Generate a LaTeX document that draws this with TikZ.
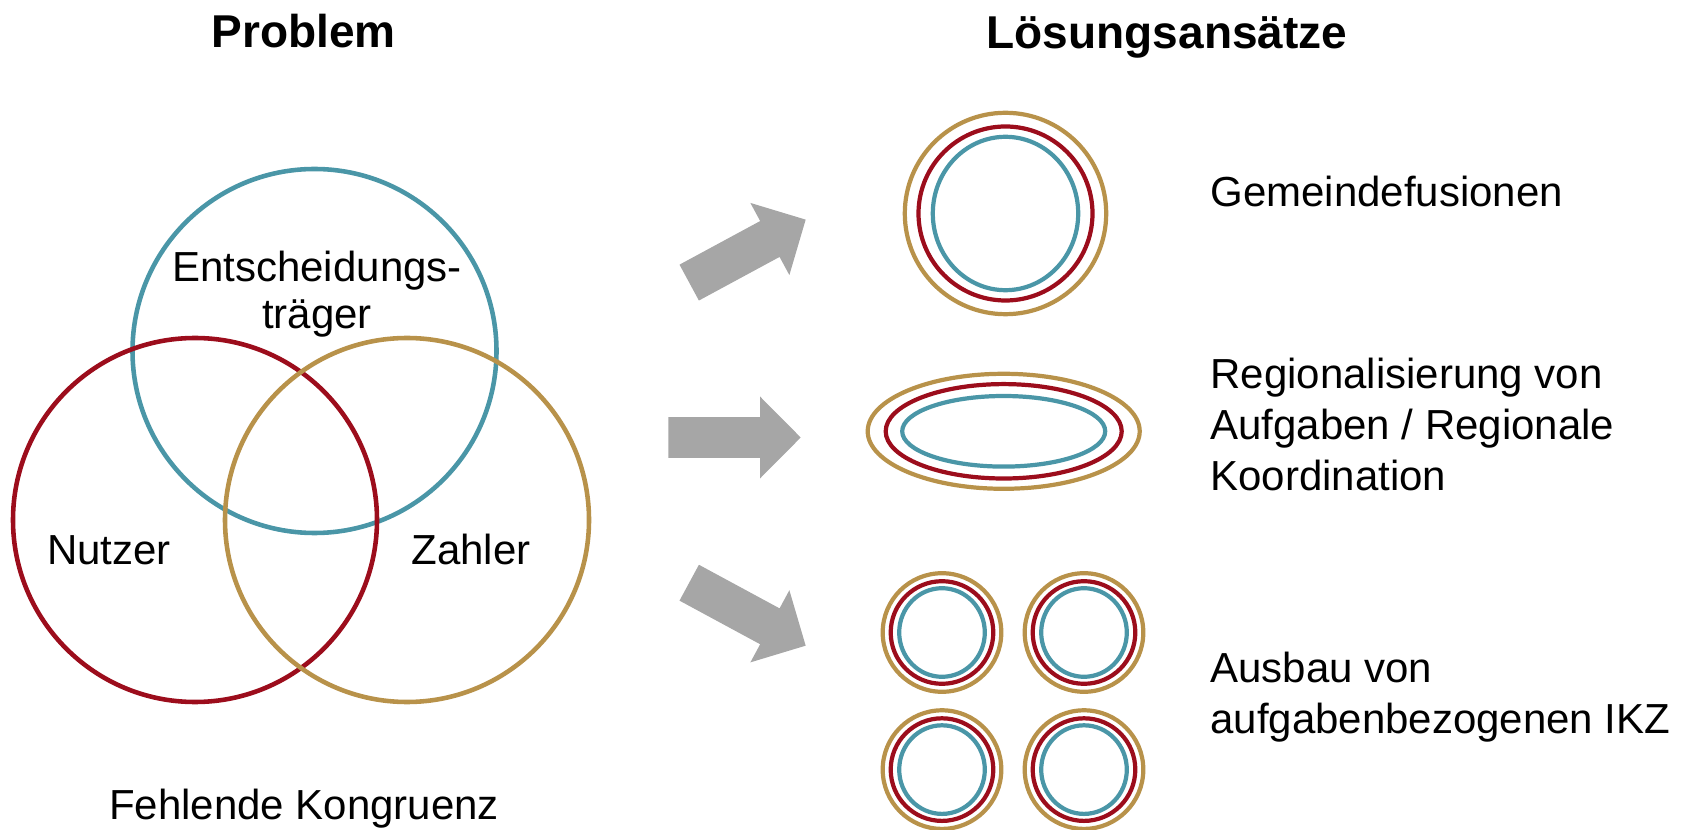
\documentclass[tikz,border=0pt]{standalone}
\usepackage{fontspec}
\setmainfont{Liberation Sans}
\definecolor{entblue}{HTML}{4A96A7}
\definecolor{nutzred}{HTML}{9C0D1C}
\definecolor{zahlgold}{HTML}{B8924A}
\definecolor{arrowgray}{HTML}{A6A6A6}
\tikzset{
  venn/.style={line width=2.6pt},
  ring/.style={line width=2.4pt},
  lbl/.style={inner sep=0pt, font=\fontsize{23.9}{27.1}\selectfont},
  rlbl/.style={inner sep=0pt, anchor=base west, align=left, font=\fontsize{23.9}{29}\selectfont},
  title/.style={inner sep=0pt, anchor=base, font=\fontsize{26.2}{30}\selectfont\bfseries}
}
\begin{document}
\begin{tikzpicture}[x=0.02cm,y=-0.02cm]
\useasboundingbox (0,0) rectangle (1686,830);

% titles
\node[title] (problem) at (303.6,47.6) {Problem};
\node[title] (loesung) at (1167,48.4) {Lösungsansätze};

% Venn
\draw[venn, entblue] (314.5,351) circle [radius=182];
\draw[venn, nutzred] (195,520) circle [radius=182];
\draw[venn, zahlgold] (407,520) circle [radius=182];
\node[lbl, anchor=base, align=center] (ent) at (317,329) {Entscheidungs-\\träger};
\node[lbl, anchor=base] (nutzer) at (109,564) {Nutzer};
\node[lbl, anchor=base] (zahler) at (471,564) {Zahler};
\node[lbl, anchor=base] (kongruenz) at (304,819) {Fehlende Kongruenz};

% arrows
\foreach \ax/\ay/\ang in {689.2/282.6/28.4, 668.3/437.5/0, 689.2/582.7/-28.4}
  \fill[arrowgray, shift={(\ax,\ay)}, rotate=\ang]
    (0,-20.4) -- (91.7,-20.4) -- (91.7,-41) -- (132.4,0) -- (91.7,41) -- (91.7,20.4) -- (0,20.4) -- cycle;

% Gemeindefusionen
\draw[ring, zahlgold] (1005.5,213.5) circle [radius=100.7];
\draw[ring, nutzred] (1005.5,213.5) circle [radius=87];
\draw[ring, entblue] (1005.5,213.5) ellipse [x radius=72.7, y radius=76.7];

% Regionalisierung
\draw[ring, zahlgold] (1003.7,431.3) ellipse [x radius=136, y radius=57.5];
\draw[ring, nutzred] (1003.7,431.3) ellipse [x radius=118, y radius=47.2];
\draw[ring, entblue] (1003.7,431.3) ellipse [x radius=101.5, y radius=35.3];

% IKZ
\foreach \cx in {942,1084}
  \foreach \cy in {632.5,769.6} {
    \draw[ring, zahlgold] (\cx,\cy) circle [radius=59.3];
    \draw[ring, nutzred] (\cx,\cy) circle [radius=51.3];
    \draw[ring, entblue] (\cx,\cy) ellipse [x radius=42.8, y radius=44.3];
  }

\node[rlbl] (fusion) at (1210,207) {Gemeindefusionen};
\node[rlbl] (region) at (1210,490.6) {Regionalisierung von\\Aufgaben / Regionale\\Koordination};
\node[rlbl] (ikz) at (1210,733) {Ausbau von\\aufgabenbezogenen IKZ};
\end{tikzpicture}
\end{document}
